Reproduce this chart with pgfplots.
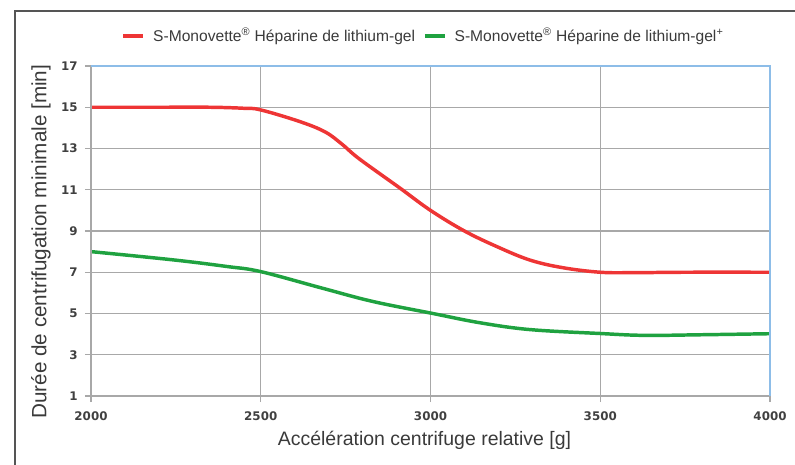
\documentclass[border=0pt]{standalone}
\usepackage{fontspec}
\setmainfont{Liberation Sans}
\newfontfamily\tickfont{DejaVu Sans}
\usepackage{pgfplots}
\pgfplotsset{compat=1.18}
\definecolor{gridgray}{HTML}{A8A8A8}
\definecolor{axblue}{HTML}{8DBDE8}
\definecolor{redc}{HTML}{EE3535}
\definecolor{greenc}{HTML}{1FA240}
\definecolor{txt}{HTML}{3A3A3A}
\definecolor{ticktxt}{HTML}{404040}
\definecolor{framec}{HTML}{555555}
\begin{document}
\begin{tikzpicture}
\useasboundingbox (-68.25pt,-51pt) rectangle (528pt,297pt);
\draw[framec, line width=1.5pt] (-57pt,-52pt) -- (-57pt,288.75pt) -- (530pt,288.75pt);
\begin{axis}[
  at={(0,0)}, anchor=south west,
  scale only axis,
  width=509.25pt, height=247.5pt,
  xmin=2000, xmax=4000, ymin=1, ymax=17,
  xtick={2000,2500,...,4000},
  ytick={1,3,...,17},
  xtick pos=left, ytick pos=left,
  tick align=outside,
  major tick length=4.5pt,
  every tick/.style={gridgray, line width=1pt},
  grid=major,
  major grid style={gridgray, line width=1.1pt},
  axis line style={draw=none},
  /pgf/number format/assume math mode=true,
  /pgf/number format/1000 sep={},
  tick label style={font=\tickfont\bfseries\fontsize{8.9}{10}\selectfont, text=ticktxt},
  xticklabel style={yshift=-4pt},
  yticklabel style={xshift=-2pt},
  xlabel={Accélération centrifuge relative [g]},
  ylabel={Durée de centrifugation minimale [min]},
  xlabel style={font=\fontsize{14.6}{16}\selectfont, text=txt, at={(axis description cs:0.5,0)}, anchor=center, yshift=-33pt, xshift=-4.5pt},
  ylabel style={font=\fontsize{15.5}{17}\selectfont, text=txt, at={(axis description cs:0,0.5)}, anchor=center, yshift=37.5pt, xshift=-8pt},
  legend style={at={(axis description cs:0.4904,1.0909)}, anchor=center, draw=none, fill=none,
    font=\fontsize{11.7}{13}\selectfont, text=txt, column sep=4pt,
    /tikz/every even column/.append style={column sep=4pt}},
  legend columns=2,
  legend image code/.code={\draw[#1, line width=2.6pt] (0pt,0pt) -- (15pt,0pt);},
  clip=false,
]
\addplot[redc, line width=2.6pt, smooth, tension=0.6] coordinates {
(2000,15) (2200,15) (2350,15.0) (2450,14.95) (2500,14.87) (2616,14.3)
(2690,13.8) (2740,13.2) (2790,12.5) (2910,11.08) (3000,10.0) (3100,9.0)
(3196,8.24) (3293,7.59) (3390,7.22) (3500,7.0) (3600,6.98) (3750,7.0) (4000,7.0)
};
\addlegendentry{S-Monovette\textsuperscript{®} Héparine de lithium-gel}
\addplot[greenc, line width=2.6pt, smooth, tension=0.6] coordinates {
(2000,8.0) (2242,7.6) (2400,7.28) (2500,7.03) (2683,6.22) (2831,5.58)
(3007,5.0) (3146,4.55) (3293,4.22) (3500,4.03) (3630,3.94) (3800,3.97) (4000,4.02)
};
\addlegendentry{S-Monovette\textsuperscript{®} Héparine de lithium-gel\textsuperscript{+}}
\draw[gridgray, line width=1.1pt] (rel axis cs:0,1) -- (rel axis cs:0,0) -- (rel axis cs:1,0);
\draw[axblue, line width=1.1pt] (rel axis cs:0,1) -- (rel axis cs:1,1) -- (rel axis cs:1,0);
\end{axis}
\end{tikzpicture}
\end{document}
